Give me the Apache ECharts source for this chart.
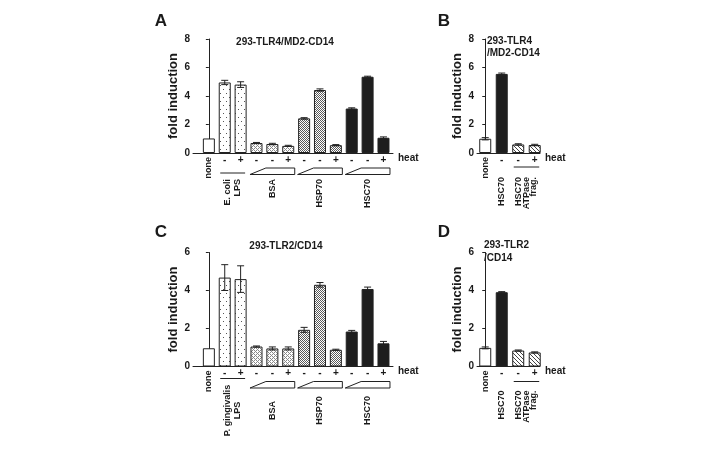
<!DOCTYPE html>
<html>
<head>
<meta charset="utf-8">
<script src="https://cdn.jsdelivr.net/npm/echarts@6/dist/echarts.min.js"></script>
<style>
html, body { margin: 0; background: #fff; }
#main { width: 715px; height: 450px; }
</style>
</head>
<body>
<div id="main"></div>
<script>
// ---- data ----
// panel A : 293-TLR4/MD2-CD14
const heatA  = ['', '-', '+', '-', '-', '+', '-', '-', '+', '-', '-', '+'];
const kindA  = ['none', 'lps', 'lps', 'bsa', 'bsa', 'bsa', 'hsp', 'hsp', 'hsp', 'hsc', 'hsc', 'hsc'];
const valA   = [1.02, 4.95, 4.8, 0.7, 0.63, 0.5, 2.43, 4.42, 0.55, 3.12, 5.35, 1.07];
const errA   = [0, 0.15, 0.2, 0.04, 0.05, 0.04, 0.05, 0.08, 0.04, 0.05, 0.04, 0.06];
// panel C : 293-TLR2/CD14
const valC   = [0.96, 4.68, 4.6, 1.05, 0.95, 0.95, 1.93, 4.3, 0.88, 1.84, 4.08, 1.22];
const errC   = [0, 0.68, 0.7, 0.03, 0.08, 0.08, 0.13, 0.12, 0.03, 0.06, 0.1, 0.1];
// panels B / D
const heatB  = ['', '-', '-', '+'];
const kindB  = ['none', 'hsc', 'atp', 'atp'];
const valB   = [1.0, 5.55, 0.6, 0.56];
const errB   = [0.08, 0.06, 0.05, 0.05];
const valD   = [0.98, 3.91, 0.84, 0.74];
const errD   = [0.05, 0.03, 0.03, 0.03];

const groupsA = [
  { label: 'none', from: 0, to: 0, kind: 'axis' },
  { label: 'E. coli\nLPS', from: 1, to: 2, kind: 'line' },
  { label: 'BSA', from: 3, to: 5, kind: 'ramp' },
  { label: 'HSP70', from: 6, to: 8, kind: 'ramp' },
  { label: 'HSC70', from: 9, to: 11, kind: 'ramp' }
];
const groupsC = [
  { label: 'none', from: 0, to: 0, kind: 'axis' },
  { label: 'P. gingivalis\nLPS', from: 1, to: 2, kind: 'line' },
  { label: 'BSA', from: 3, to: 5, kind: 'ramp' },
  { label: 'HSP70', from: 6, to: 8, kind: 'ramp' },
  { label: 'HSC70', from: 9, to: 11, kind: 'ramp' }
];
const groupsB = [
  { label: 'none', from: 0, to: 0, kind: 'axis' },
  { label: 'HSC70', from: 1, to: 1, kind: 'plain' },
  { label: 'HSC70\nATPase\nfrag.', from: 2, to: 3, kind: 'line' }
];

const FONT = 'Liberation Sans, Arial, sans-serif';
const INK = '#1a1a1a';

// fill patterns
function pattern(w, h, draw) {
  const c = document.createElement('canvas');
  c.width = w; c.height = h;
  const ctx = c.getContext('2d');
  ctx.fillStyle = '#fff';
  ctx.fillRect(0, 0, w, h);
  draw(ctx);
  return { image: c, repeat: 'repeat' };
}
const fills = {
  none: '#fff',
  lps: pattern(6, 8, ctx => { ctx.fillStyle = '#555'; ctx.fillRect(1, 1, 1, 1); ctx.fillRect(4, 5, 1, 1); }),
  bsa: pattern(4, 4, ctx => { ctx.fillStyle = '#8a8a8a'; ctx.fillRect(0, 0, 1, 1); ctx.fillRect(2, 0, 1, 1); ctx.fillRect(1, 1, 1, 1); ctx.fillRect(0, 2, 1, 1); ctx.fillRect(2, 2, 1, 1); ctx.fillRect(3, 3, 1, 1); }),
  hsp: pattern(2, 2, ctx => { ctx.fillStyle = '#5a5a5a'; ctx.fillRect(0, 0, 1, 1); ctx.fillRect(1, 1, 1, 1); }),
  hsc: '#1e1e1e',
  atp: pattern(4, 4, ctx => { ctx.fillStyle = '#444'; for (let i = 0; i < 4; i++) ctx.fillRect(i, i, 1, 1); })
};

// panel layout
const panels = [
  { left: 193, top: 39,    width: 200, xMin: -1,   xMax: 11.6, yMax: 8, heat: heatA, kind: kindA, val: valA, err: errA, groups: groupsA, lineDy: 20, labelDy: 26, align: 'right', lh: 10 },
  { left: 477, top: 39,    width: 63,  xMin: -0.5, xMax: 3.32, yMax: 8, heat: heatB, kind: kindB, val: valB, err: errB, groups: groupsB, lineDy: 14, labelDy: 24, align: 'right', lh: 7.5 },
  { left: 193, top: 252.5, width: 200, xMin: -1,   xMax: 11.6, yMax: 6, heat: heatA, kind: kindA, val: valC, err: errC, groups: groupsC, lineDy: 12, labelDy: 44, align: 'center', lh: 10 },
  { left: 477, top: 252.5, width: 63,  xMin: -0.5, xMax: 3.32, yMax: 6, heat: heatB, kind: kindB, val: valD, err: errD, groups: groupsB, lineDy: 15, labelDy: 24, align: 'right', lh: 7.5 }
];

const grids = [], xAxes = [], yAxes = [], series = [];
panels.forEach((p, gi) => {
  grids.push({ left: p.left, top: p.top, width: p.width, height: 114, containLabel: false });
  xAxes.push({
    type: 'value', gridIndex: gi, min: p.xMin, max: p.xMax,
    name: 'heat', nameLocation: 'end', nameGap: 5,
    nameTextStyle: { color: INK, fontFamily: FONT, fontWeight: 'bold', fontSize: 10, verticalAlign: 'top' },
    axisLine: { show: true, onZero: false, lineStyle: { color: '#222', width: 1 } },
    axisTick: { show: false },
    splitLine: { show: false },
    axisLabel: {
      customValues: p.heat.map((h, i) => i),
      formatter: v => p.heat[v] || '',
      margin: 2, color: INK, fontFamily: FONT, fontWeight: 'bold', fontSize: 10
    }
  });
  yAxes.push({
    type: 'value', gridIndex: gi, min: 0, max: p.yMax, interval: 2,
    name: 'fold induction', nameLocation: 'middle', nameGap: 13,
    nameTextStyle: { color: INK, fontFamily: FONT, fontWeight: 'bold', fontSize: 13 },
    axisLine: { show: true, lineStyle: { color: '#222', width: 1 } },
    axisTick: { show: true, length: 3, lineStyle: { color: '#222' } },
    splitLine: { show: false },
    axisLabel: { margin: 3, color: INK, fontFamily: FONT, fontWeight: 'bold', fontSize: 10 }
  });
  series.push({
    type: 'bar', xAxisIndex: gi, yAxisIndex: gi, barWidth: 12, silent: true,
    data: p.val.map((v, i) => ({ value: [i, v], itemStyle: { color: fills[p.kind[i]] } })),
    itemStyle: { borderColor: '#222', borderWidth: 1 }
  });
  // error bars
  series.push({
    type: 'custom', xAxisIndex: gi, yAxisIndex: gi, silent: true, z: 4,
    data: p.val.map((v, i) => [i, v - p.err[i], v + p.err[i]]),
    encode: { x: 0, y: [1, 2] },
    renderItem(params, api) {
      if (p.err[params.dataIndex] === 0) return;
      const lo = api.coord([api.value(0), api.value(1)]);
      const hi = api.coord([api.value(0), api.value(2)]);
      const s = { stroke: '#222', lineWidth: 1 };
      return { type: 'group', children: [
        { type: 'line', shape: { x1: lo[0], y1: lo[1], x2: hi[0], y2: hi[1] }, style: s },
        { type: 'line', shape: { x1: lo[0] - 3.5, y1: lo[1], x2: lo[0] + 3.5, y2: lo[1] }, style: s },
        { type: 'line', shape: { x1: hi[0] - 3.5, y1: hi[1], x2: hi[0] + 3.5, y2: hi[1] }, style: s }
      ] };
    }
  });
  // group brackets and labels under the axis
  series.push({
    type: 'custom', xAxisIndex: gi, yAxisIndex: gi, silent: true, z: 5,
    data: p.groups.map(g => [g.from, g.to, 0]),
    encode: { x: [0, 1], y: 2 },
    renderItem(params, api) {
      const g = p.groups[params.dataIndex];
      const a = api.coord([api.value(0), 0]);
      const b = api.coord([api.value(1), 0]);
      const unit = api.size([1, 0])[0];
      const y0 = a[1], L = a[0] - 6.5, R = b[0] + 6.5, mid = (a[0] + b[0]) / 2;
      const s = { stroke: '#222', lineWidth: 1, fill: 'none' };
      const children = [];
      if (g.kind === 'ramp') {
        const top = y0 + 15, bot = y0 + 21.5;
        children.push({ type: 'polygon', shape: { points: [[L, bot], [L + unit, top], [R, top], [R, bot]] }, style: s });
      } else if (g.kind === 'line') {
        children.push({ type: 'line', shape: { x1: L + 2, y1: y0 + p.lineDy, x2: R - 2, y2: y0 + p.lineDy }, style: s });
      }
      const near = g.kind === 'axis';
      children.push({
        type: 'text', x: mid, y: near ? y0 + 4 : y0 + p.labelDy, rotation: Math.PI / 2,
        style: {
          text: g.label, fill: INK, font: 'bold 9px ' + FONT,
          align: near ? 'right' : p.align, verticalAlign: 'middle', lineHeight: p.lh
        }
      });
      return { type: 'group', children };
    }
  });
});

const txt = (x, y, text, size, align, lh) => ({
  type: 'text', x, y,
  style: { text, fill: INK, font: 'bold ' + size + 'px ' + FONT, align: align || 'left', verticalAlign: 'middle', lineHeight: lh || size + 2 }
});

const chart = echarts.init(document.getElementById('main'), null, { renderer: 'canvas' });
chart.setOption({
  animation: false,
  backgroundColor: '#fff',
  grid: grids,
  xAxis: xAxes,
  yAxis: yAxes,
  series: series,
  graphic: [
    txt(161, 21, 'A', 17, 'center'),
    txt(444, 21, 'B', 17, 'center'),
    txt(161, 232, 'C', 17, 'center'),
    txt(444, 232, 'D', 17, 'center'),
    txt(285, 42, '293-TLR4/MD2-CD14', 10, 'center'),
    txt(487, 47.5, '293-TLR4\n/MD2-CD14', 10, 'left', 12),
    txt(286, 246, '293-TLR2/CD14', 10, 'center'),
    txt(484, 251.5, '293-TLR2\n/CD14', 10, 'left', 13)
  ]
});
</script>
</body>
</html>
